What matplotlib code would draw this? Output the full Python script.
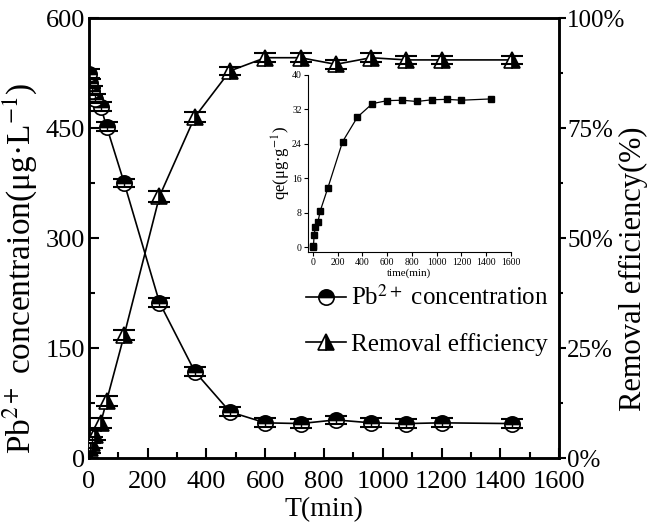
import matplotlib
matplotlib.use("Agg")
import matplotlib.pyplot as plt
from matplotlib.ticker import MultipleLocator, FuncFormatter
from matplotlib.lines import Line2D

plt.rcParams['font.family'] = ['Liberation Serif', 'DejaVu Serif']
plt.rcParams['mathtext.fontset'] = 'stix'

# ---- data ----
time_min = [0, 5, 10, 20, 40, 60, 120, 240, 360, 480, 600, 720, 840, 960, 1080, 1200, 1440]
pb_conc = [524, 511, 501, 490, 479, 452, 375, 212, 118, 63, 48, 47, 52, 48, 47, 48, 47]
pb_err = [6, 6, 6, 6, 6, 6, 6, 6, 6, 6, 6, 6, 6, 6, 6, 6, 6]
removal = [0, 2.3, 3.5, 5.2, 8, 13, 28, 59.5, 77.5, 88, 91, 91, 89.5, 91, 90.5, 90.5, 90.5]
removal_err = [1.2, 1.2, 1.2, 1.2, 1.2, 1.2, 1.2, 1.2, 1.2, 1.0, 1.0, 1.0, 1.0, 1.0, 1.0, 1.0, 1.0]
qe = [0.1, 0.4, 2.9, 4.7, 5.8, 8.5, 13.7, 24.5, 30.2, 33.3, 34.0, 34.1, 33.8, 34.2, 34.3, 34.1, 34.4]

fig = plt.figure(figsize=(6.51, 5.30), dpi=100)
ax = fig.add_axes([0.1367, 0.1358, 0.722, 0.830])
ax2 = ax.twinx()

circ_style = dict(color='black', lw=1.2, marker='o', markersize=11, fillstyle='top',
                  markerfacecolor='black', markerfacecoloralt='white',
                  markeredgecolor='black', markeredgewidth=1.2)
tri_style = dict(color='black', lw=1.2, marker='^', markersize=11, fillstyle='right',
                 markerfacecolor='black', markerfacecoloralt='white',
                 markeredgecolor='black', markeredgewidth=1.2)

ax.plot(time_min, pb_conc, zorder=3, **circ_style)
ax.errorbar(time_min, pb_conc, yerr=pb_err, fmt='none', ecolor='black',
            elinewidth=1.0, capsize=8, capthick=1.5, zorder=4)
ax2.plot(time_min, removal, zorder=3, **tri_style)
ax2.errorbar(time_min, removal, yerr=removal_err, fmt='none', ecolor='black',
             elinewidth=1.0, capsize=8, capthick=1.5, zorder=4)

ax.set_xlim(0, 1600)
ax.set_ylim(0, 600)
ax2.set_ylim(0, 100)
ax.xaxis.set_major_locator(MultipleLocator(200))
ax.xaxis.set_minor_locator(MultipleLocator(100))
ax.yaxis.set_major_locator(MultipleLocator(150))
ax.yaxis.set_minor_locator(MultipleLocator(75))
ax2.yaxis.set_major_locator(MultipleLocator(25))
ax2.yaxis.set_minor_locator(MultipleLocator(12.5))
ax2.yaxis.set_major_formatter(FuncFormatter(lambda v, p: f"{int(v)}%"))

for s in ['left', 'right', 'bottom', 'top']:
    ax.spines[s].set_linewidth(1.8)
    ax2.spines[s].set_linewidth(1.8)

ax.tick_params(axis='both', which='both', direction='in', labelsize=19, width=1.5)
ax.tick_params(axis='both', which='major', length=7)
ax.tick_params(axis='both', which='minor', length=4)
ax.tick_params(axis='x', top=False, pad=9)
ax.tick_params(axis='y', pad=3)
ax2.tick_params(axis='y', which='both', direction='out', labelsize=18, width=1.5, pad=1)
ax2.tick_params(axis='y', which='major', length=5)
ax2.tick_params(axis='y', which='minor', length=3)

ax.set_xlabel('T(min)', fontsize=20, labelpad=3)
ax.set_ylabel('Pb$^{2+}$ concentraion(μg·L$^{-1}$)', fontsize=24)
ax.yaxis.set_label_coords(-0.106, 0.43)
ax2.set_ylabel('Removal efficiency(%)', fontsize=22)
ax2.yaxis.set_label_coords(1.128, 0.43)

h1 = Line2D([], [], **circ_style)
h2 = Line2D([], [], **tri_style)
ax.legend([h1, h2], ['Pb$^{2+}$ concentration', 'Removal efficiency'],
          loc='upper left', bbox_to_anchor=(0.44, 0.415), frameon=False,
          fontsize=18, labelspacing=0.9, handlelength=1.6, handletextpad=0.2,
          borderaxespad=0)

# ---- inset ----
ins = fig.add_axes([0.473, 0.525, 0.312, 0.334])
ins.plot(time_min, qe, color='black', lw=0.9, marker='s', markersize=4)
ins.set_xlim(-40, 1600)
ins.set_ylim(-1, 40)
ins.xaxis.set_major_locator(MultipleLocator(200))
ins.xaxis.set_minor_locator(MultipleLocator(100))
ins.yaxis.set_major_locator(MultipleLocator(8))
ins.yaxis.set_minor_locator(MultipleLocator(4))
ins.spines['top'].set_visible(False)
ins.spines['right'].set_visible(False)
ins.tick_params(axis='both', which='both', direction='out', labelsize=7, width=0.8, pad=1.5)
ins.tick_params(axis='both', which='major', length=3)
ins.tick_params(axis='both', which='minor', length=0)
ins.set_xlabel('time(min)', fontsize=8, labelpad=1)
ins.set_ylabel('qe(μg·g$^{-1}$)', fontsize=12, labelpad=-1)
ins.patch.set_alpha(0)

fig.savefig('out.png', dpi=100)
